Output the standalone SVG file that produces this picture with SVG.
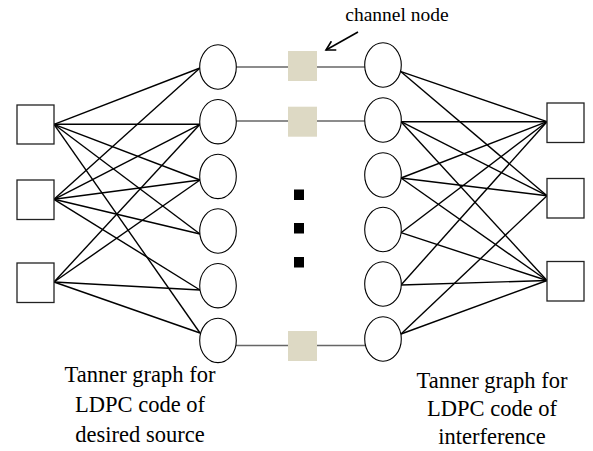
<svg xmlns="http://www.w3.org/2000/svg" width="593" height="451" viewBox="0 0 593 451">
<style>
.vn{fill:#fff;stroke:#000;stroke-width:1.1}
.cn{fill:#fff;stroke:#222;stroke-width:1.3}
.ch{fill:#ddd9c4;stroke:none}
.dot{fill:#000}
.e{stroke:#000;stroke-width:1.4;fill:none}
.cl{stroke:#666;stroke-width:1.5;fill:none}
text{font-family:"Liberation Serif","Times New Roman",serif;font-size:22.5px;fill:#000;text-anchor:middle}
</style>
<defs>
<marker id="ah" markerWidth="12" markerHeight="12" refX="10" refY="6" orient="auto" markerUnits="userSpaceOnUse">
<path d="M1,1 L10,6 L1,11" fill="none" stroke="#000" stroke-width="1.6"/>
</marker>
</defs>
<rect width="593" height="451" fill="#fff"/>
<g id="connectors">
<g id="left-edges">
<line class="e" x1="54" y1="124.3" x2="200" y2="68"/>
<line class="e" x1="54" y1="124.3" x2="200" y2="124.3"/>
<line class="e" x1="54" y1="124.3" x2="200" y2="180"/>
<line class="e" x1="54" y1="124.3" x2="200" y2="234"/>
<line class="e" x1="54" y1="124.3" x2="200" y2="333"/>
<line class="e" x1="54" y1="199.3" x2="200" y2="68"/>
<line class="e" x1="54" y1="199.3" x2="200" y2="124.3"/>
<line class="e" x1="54" y1="199.3" x2="200" y2="180"/>
<line class="e" x1="54" y1="199.3" x2="200" y2="234"/>
<line class="e" x1="54" y1="199.3" x2="200" y2="290"/>
<line class="e" x1="54" y1="282" x2="200" y2="124.3"/>
<line class="e" x1="54" y1="282" x2="200" y2="180"/>
<line class="e" x1="54" y1="282" x2="200" y2="290"/>
<line class="e" x1="54" y1="282" x2="200" y2="333"/>
</g>
<g id="right-edges">
<line class="e" x1="401" y1="71.7" x2="547" y2="121.7"/>
<line class="e" x1="401" y1="71.7" x2="547" y2="195.7"/>
<line class="e" x1="401" y1="121.7" x2="547" y2="121.7"/>
<line class="e" x1="401" y1="121.7" x2="547" y2="195.7"/>
<line class="e" x1="401" y1="121.7" x2="547" y2="280.5"/>
<line class="e" x1="401" y1="178" x2="547" y2="121.7"/>
<line class="e" x1="401" y1="178" x2="547" y2="195.7"/>
<line class="e" x1="401" y1="178" x2="547" y2="280.5"/>
<line class="e" x1="401" y1="232.7" x2="547" y2="121.7"/>
<line class="e" x1="401" y1="232.7" x2="547" y2="280.5"/>
<line class="e" x1="401" y1="285" x2="547" y2="121.7"/>
<line class="e" x1="401" y1="285" x2="547" y2="280.5"/>
<line class="e" x1="401" y1="334" x2="547" y2="195.7"/>
<line class="e" x1="401" y1="334" x2="547" y2="280.5"/>
</g>
<g id="channel-edges">
<line class="cl" x1="236" y1="67" x2="288" y2="67"/>
<line class="cl" x1="317" y1="67" x2="365" y2="67"/>
<line class="cl" x1="236" y1="121" x2="288" y2="121"/>
<line class="cl" x1="317" y1="121" x2="365" y2="121"/>
<line class="cl" x1="236" y1="345.5" x2="288" y2="345.5"/>
<line class="cl" x1="317" y1="345.5" x2="365" y2="345.5"/>
</g>
<line id="label-arrow" x1="358" y1="32" x2="326" y2="50" stroke="#000" stroke-width="1.6" marker-end="url(#ah)"/>
</g>
<g id="left-check-1"><rect class="cn" x="17" y="105" width="37" height="39"/></g>
<g id="left-check-2"><rect class="cn" x="17" y="180" width="37" height="39.5"/></g>
<g id="left-check-3"><rect class="cn" x="17" y="263" width="37" height="39.5"/></g>
<g id="right-check-1"><rect class="cn" x="547" y="103" width="37" height="39.5"/></g>
<g id="right-check-2"><rect class="cn" x="547" y="178.5" width="37" height="39.5"/></g>
<g id="right-check-3"><rect class="cn" x="547" y="261.5" width="37" height="39.5"/></g>
<g id="left-var-1"><ellipse class="vn" cx="218" cy="67" rx="18.3" ry="22.2"/></g>
<g id="left-var-2"><ellipse class="vn" cx="218" cy="121.7" rx="18.3" ry="22.2"/></g>
<g id="left-var-3"><ellipse class="vn" cx="218" cy="176.4" rx="18.3" ry="22.2"/></g>
<g id="left-var-4"><ellipse class="vn" cx="218" cy="231" rx="18.3" ry="22.2"/></g>
<g id="left-var-5"><ellipse class="vn" cx="218" cy="285.7" rx="18.3" ry="22.2"/></g>
<g id="left-var-6"><ellipse class="vn" cx="218" cy="340.4" rx="18.3" ry="22.2"/></g>
<g id="right-var-1"><ellipse class="vn" cx="383" cy="65" rx="18.3" ry="22.2"/></g>
<g id="right-var-2"><ellipse class="vn" cx="383" cy="120" rx="18.3" ry="22.2"/></g>
<g id="right-var-3"><ellipse class="vn" cx="383" cy="175" rx="18.3" ry="22.2"/></g>
<g id="right-var-4"><ellipse class="vn" cx="383" cy="229.5" rx="18.3" ry="22.2"/></g>
<g id="right-var-5"><ellipse class="vn" cx="383" cy="284" rx="18.3" ry="22.2"/></g>
<g id="right-var-6"><ellipse class="vn" cx="383" cy="339" rx="18.3" ry="22.2"/></g>
<g id="channel-1"><rect class="ch" x="288" y="51" width="29" height="30"/></g>
<g id="channel-2"><rect class="ch" x="288" y="106.7" width="29" height="30"/></g>
<g id="channel-3"><rect class="ch" x="288" y="331" width="29" height="30"/></g>
<g id="ellipsis">
<rect class="dot" x="294" y="189.5" width="10" height="10.5"/>
<rect class="dot" x="294" y="223" width="10" height="10.5"/>
<rect class="dot" x="294" y="257" width="10" height="10.5"/>
</g>
<g id="label-channel"><text x="397" y="21" style="font-size:19.5px">channel node</text></g>
<g id="label-left">
<text x="140" y="381.5">Tanner graph for</text>
<text x="140" y="411.5">LDPC code of</text>
<text x="140" y="441.5">desired source</text>
</g>
<g id="label-right">
<text x="492" y="388">Tanner graph for</text>
<text x="492" y="416">LDPC code of</text>
<text x="492" y="444">interference</text>
</g>
</svg>
